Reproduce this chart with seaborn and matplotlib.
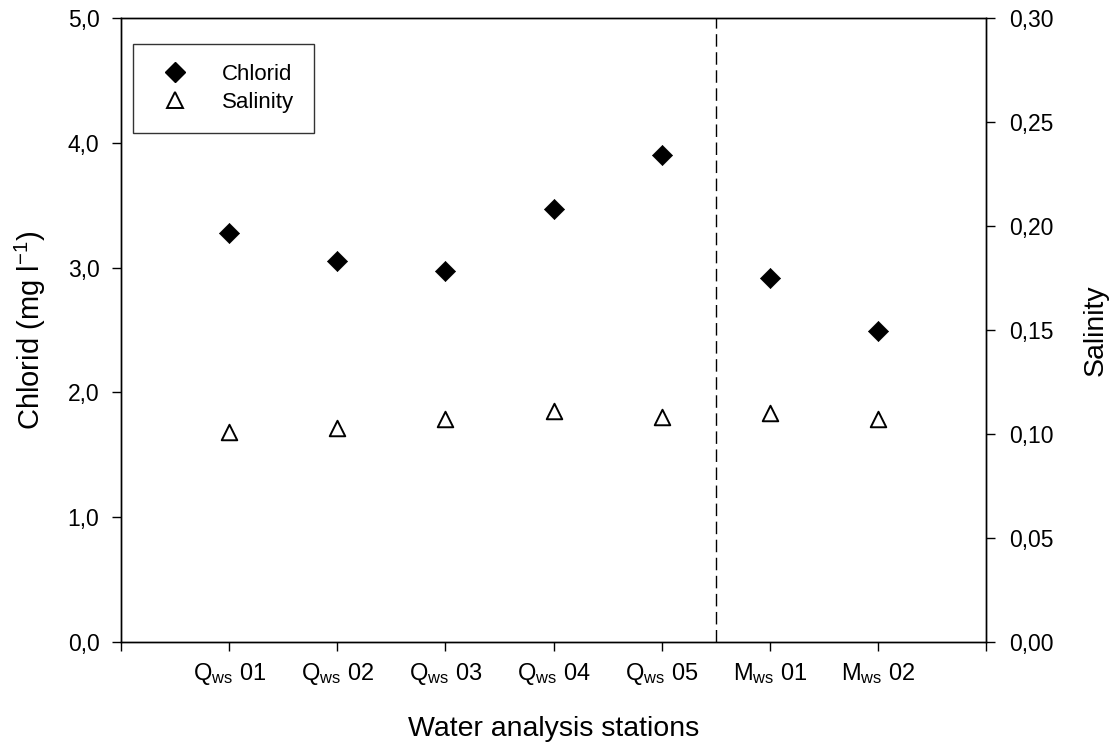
import numpy as np
import pandas as pd
import matplotlib.pyplot as plt
from matplotlib.lines import Line2D
import seaborn as sns

# data
stations = ["Q$_{\\mathrm{ws}}$ 01", "Q$_{\\mathrm{ws}}$ 02", "Q$_{\\mathrm{ws}}$ 03",
            "Q$_{\\mathrm{ws}}$ 04", "Q$_{\\mathrm{ws}}$ 05",
            "M$_{\\mathrm{ws}}$ 01", "M$_{\\mathrm{ws}}$ 02"]
station_pos = [1, 2, 3, 4, 5, 6, 7]
chlorid = [3.28, 3.05, 2.97, 3.47, 3.90, 2.92, 2.49]
salinity = [0.101, 0.103, 0.107, 0.111, 0.108, 0.110, 0.107]

df = pd.DataFrame({"pos": station_pos, "chlorid": chlorid, "salinity": salinity})

sns.set_style("ticks")
plt.rcParams["font.family"] = ["Liberation Sans", "DejaVu Sans"]
plt.rcParams["mathtext.fontset"] = "custom"
plt.rcParams["mathtext.rm"] = "Liberation Sans"
plt.rcParams["mathtext.it"] = "Liberation Sans:italic"
for k in ["text.color", "axes.labelcolor", "xtick.color", "ytick.color", "axes.edgecolor"]:
    plt.rcParams[k] = "black"

fig = plt.figure(figsize=(11.17, 7.46), dpi=100)
ax = fig.add_axes([121 / 1117, 1 - 642 / 746, 865 / 1117, 624 / 746])
ax2 = ax.twinx()

sns.scatterplot(data=df, x="pos", y="chlorid", ax=ax, marker="D", s=105,
                color="black", edgecolor="black", linewidth=0.5, legend=False)
sns.scatterplot(data=df, x="pos", y="salinity", ax=ax2, marker="^", s=125,
                facecolor="white", edgecolor="black", linewidth=1.4, legend=False)

ax.axvline(5.5, color="black", linestyle=(0, (9, 4)), linewidth=1)

ax.set_xlim(0, 8)
ax.set_ylim(0, 5)
ax2.set_ylim(0, 0.30)

ax.set_xticks(range(0, 9))
ax.set_xticklabels([""] + stations + [""], fontsize=17)
ax.set_yticks(np.arange(0, 5.01, 1))
ax.set_yticklabels([f"{v:.1f}".replace(".", ",") for v in np.arange(0, 5.01, 1)], fontsize=16.5)
ax2.set_yticks(np.arange(0, 0.301, 0.05))
ax2.set_yticklabels([f"{v:.2f}".replace(".", ",") for v in np.arange(0, 0.301, 0.05)], fontsize=16.5)

for a in (ax, ax2):
    a.tick_params(direction="out", length=6.5, width=1, color="black", pad=9)
    for sp in a.spines.values():
        sp.set_color("black")
        sp.set_linewidth(1)
ax.tick_params(axis="x", pad=7)
ax2.tick_params(axis="y", pad=10)

ax.set_xlabel("Water analysis stations", fontsize=20.5, labelpad=21)
ax.set_ylabel("Chlorid (mg l$^{-1}$)", fontsize=21, labelpad=14)
ax2.set_ylabel("Salinity", fontsize=20.5, labelpad=21)

handles = [
    Line2D([], [], linestyle="none", marker="D", markersize=10.5,
           markerfacecolor="black", markeredgecolor="black"),
    Line2D([], [], linestyle="none", marker="^", markersize=11,
           markerfacecolor="white", markeredgecolor="black", markeredgewidth=1.4),
]
leg = ax.legend(handles, ["Chlorid", "Salinity"], loc="upper left",
                bbox_to_anchor=(12 / 865, 1 - 26 / 624),
                fontsize=16, frameon=True, fancybox=False, edgecolor="black",
                borderpad=0.9, handletextpad=1.1, labelspacing=0.3, borderaxespad=0,
                handlelength=2.0)
leg.get_frame().set_linewidth(1)

plt.savefig("out.png", dpi=100)
plt.close()
